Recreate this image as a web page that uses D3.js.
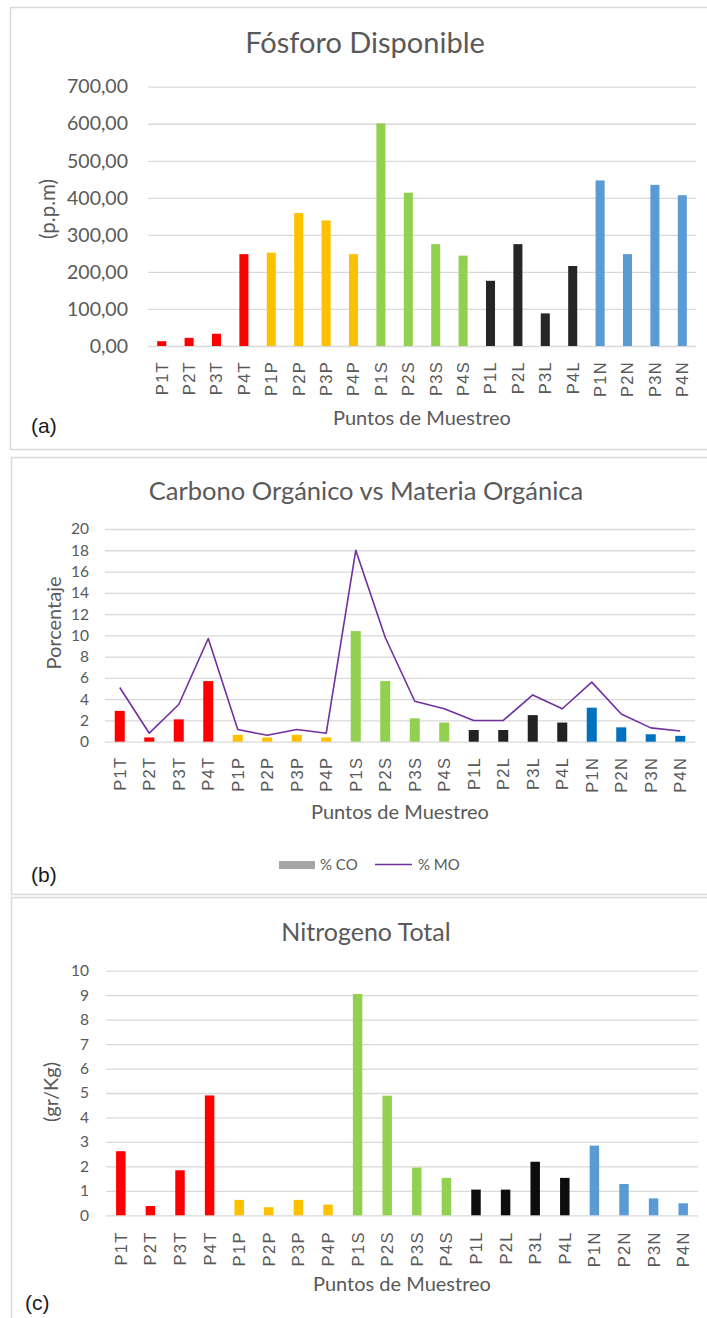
<!DOCTYPE html>
<html><head><meta charset="utf-8">
<script src="https://cdn.jsdelivr.net/npm/d3@7"></script>
<style>body{margin:0;background:#fff}svg{display:block}</style>
</head><body>
<svg id="chart" width="707" height="1318"></svg>
<script>
const categories = ["P1T","P2T","P3T","P4T","P1P","P2P","P3P","P4P","P1S","P2S","P3S","P4S","P1L","P2L","P3L","P4L","P1N","P2N","P3N","P4N"];
const fosforo = [13,22,33,248,252,359,339,248,601,414,275,244,176,275,88,216,447,248,435,407];
const carbonoCO = [2.9,0.4,2.1,5.7,0.65,0.4,0.65,0.4,10.4,5.7,2.2,1.8,1.1,1.1,2.5,1.8,3.2,1.35,0.7,0.55];
const materiaMO = [5.1,0.8,3.5,9.7,1.15,0.6,1.15,0.8,18.0,9.8,3.8,3.1,2.0,2.0,4.4,3.1,5.6,2.6,1.3,1.0];
const nitrogeno = [2.62,0.38,1.84,4.9,0.63,0.33,0.63,0.44,9.05,4.89,1.95,1.53,1.05,1.05,2.19,1.53,2.85,1.28,0.69,0.49];
const fosforoTicks = [0,100,200,300,400,500,600,700];
const porcentajeTicks = [0,2,4,6,8,10,12,14,16,18,20];
const nitrogenoTicks = [0,1,2,3,4,5,6,7,8,9,10];
const groupKeys = ["T","P","S","L","N"];
const colorsA = ["#FF0000","#FFC000","#92D050","#262626","#5B9BD5"];
const colorsB = ["#FF0000","#FFC000","#92D050","#222222","#0070C0"];
const colorsC = ["#FF0000","#FFC000","#92D050","#0D0D0D","#5B9BD5"];
const legendLabels = ["% CO","% MO"];

const svg = d3.select("#chart");
svg.append("rect").attr("width",707).attr("height",1318).attr("fill","#fff");
const locale = d3.formatLocale({decimal:",",thousands:".",grouping:[3],currency:["",""]});
const TXT = "#595959";
const CAL = "Lato, 'Open Sans', sans-serif";

function panel(o){
  const g = svg.append("g");
  g.append("rect").attr("x",o.frame[0]+0.5).attr("y",o.frame[1]+0.5)
    .attr("width",o.frame[2]).attr("height",o.frame[3])
    .attr("fill","none").attr("stroke","#D9D9D9").attr("stroke-width",1.5);
  const x = d3.scaleBand().domain(categories).range(o.xr).paddingInner(o.pad).paddingOuter(o.pad/2);
  const y = d3.scaleLinear().domain(o.domain).range(o.yr);
  const ax = d3.axisLeft(y).tickValues(o.ticks).tickSize(-(o.xr[1]-o.xr[0])).tickFormat(o.fmt).tickPadding(o.tickPad);
  const ag = g.append("g").attr("transform",`translate(${o.xr[0]},0)`).call(ax);
  ag.select(".domain").remove();
  ag.selectAll(".tick line").attr("stroke","#D9D9D9").attr("stroke-width",1.3);
  ag.selectAll(".tick text").attr("fill",TXT).style("font-family",o.tickFont).style("font-size",o.tickSize+"px");
  g.selectAll(".bar").data(o.values).join("rect")
    .attr("x",(d,i)=>x(categories[i])).attr("width",x.bandwidth())
    .attr("y",d=>y(d)).attr("height",d=>y(0)-y(d))
    .attr("fill",(d,i)=>o.colors[groupKeys.indexOf(categories[i].slice(-1))]);
  if(o.line){
    const line = d3.line().x((d,i)=>x(categories[i])+x.bandwidth()/2).y(d=>y(d));
    g.append("path").datum(o.line).attr("d",line).attr("fill","none").attr("stroke","#7030A0").attr("stroke-width",1.6).attr("stroke-linejoin","round");
  }
  const xa = d3.axisBottom(x).tickSize(0).tickPadding(0);
  const xg = g.append("g").attr("transform",`translate(0,${y(0)})`).call(xa);
  xg.select(".domain").remove();
  xg.selectAll(".tick text").attr("fill",TXT)
    .style("font-family","'Liberation Sans', Arial, sans-serif").style("font-size","16.5px").style("letter-spacing","1.3px")
    .attr("text-anchor","end").attr("transform",`translate(0,${o.catGap}) rotate(-90)`).attr("x",0).attr("y",0).attr("dy","0.36em");
  g.append("text").attr("x",o.titleX).attr("y",o.titleY).attr("text-anchor","middle")
    .attr("fill",TXT).style("font-family",CAL).style("font-size",o.titleSize+"px").text(o.title);
  g.append("text").attr("transform",`translate(${o.yTitleX},${o.yTitleY}) rotate(-90)`).attr("text-anchor","middle")
    .attr("fill",TXT).style("font-family",CAL).style("font-size",o.yTitleSize+"px").text(o.yTitle);
  g.append("text").attr("x",(o.xr[0]+o.xr[1])/2).attr("y",o.xTitleY).attr("text-anchor","middle")
    .attr("fill",TXT).style("font-family",CAL).style("font-size","20px").text("Puntos de Muestreo");
  g.append("text").attr("x",o.letterX).attr("y",o.letterY)
    .attr("fill","#1a1a1a").style("font-family","'Liberation Sans', Arial, sans-serif").style("font-size","21px").text(o.letter);
  return {g,x,y};
}

panel({frame:[10,7,700,442], xr:[148,696], yr:[346,86.7], domain:[0,700], ticks:fosforoTicks,
  fmt:locale.format(".2f"), tickPad:20, tickFont:CAL, tickSize:19.5, pad:0.67, values:fosforo, colors:colorsA,
  catGap:15, title:"Fósforo Disponible", titleX:365, titleY:53, titleSize:29,
  yTitle:"(p.p.m)", yTitleX:55, yTitleY:209, yTitleSize:20.5, xTitleY:425, letter:"(a)", letterX:31, letterY:433});

const pb = panel({frame:[11,457,700,437], xr:[105,695], yr:[741.7,529], domain:[0,20], ticks:porcentajeTicks,
  fmt:d3.format("d"), tickPad:16, tickFont:CAL, tickSize:15.5, pad:0.66, values:carbonoCO, colors:colorsB, line:materiaMO,
  catGap:15, title:"Carbono Orgánico vs Materia Orgánica", titleX:366, titleY:500, titleSize:25.5,
  yTitle:"Porcentaje", yTitleX:61, yTitleY:623, yTitleSize:20, xTitleY:819, letter:"(b)", letterX:31, letterY:882});

const lg = pb.g.append("g");
lg.append("rect").attr("x",279).attr("y",861).attr("width",36).attr("height",8).attr("fill","#A5A5A5");
lg.append("text").attr("x",320).attr("y",870).attr("fill",TXT).style("font-family",CAL).style("font-size","15px").text(legendLabels[0]);
lg.append("line").attr("x1",375).attr("x2",412).attr("y1",864.5).attr("y2",864.5).attr("stroke","#7030A0").attr("stroke-width",1.6);
lg.append("text").attr("x",418).attr("y",870).attr("fill",TXT).style("font-family",CAL).style("font-size","15px").text(legendLabels[1]);

panel({frame:[11,897,700,430], xr:[106,698], yr:[1215.3,970.7], domain:[0,10], ticks:nitrogenoTicks,
  fmt:d3.format("d"), tickPad:17, tickFont:CAL, tickSize:15.5, pad:0.68, values:nitrogeno, colors:colorsC,
  catGap:16, title:"Nitrogeno Total", titleX:366, titleY:941, titleSize:25,
  yTitle:"(gr/Kg)", yTitleX:58, yTitleY:1092, yTitleSize:20, xTitleY:1291, letter:"(c)", letterX:25, letterY:1310});
</script>
</body></html>
